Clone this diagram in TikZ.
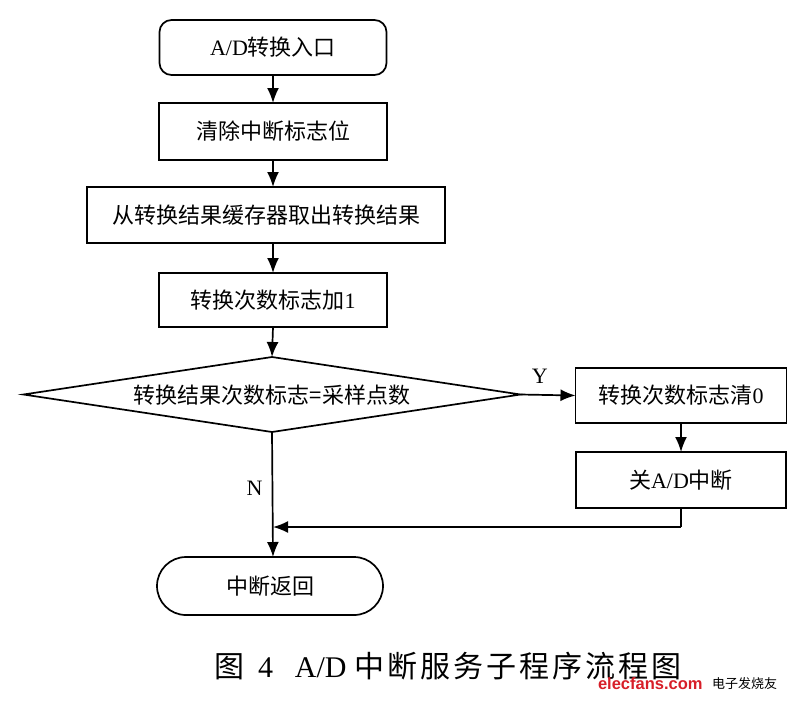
\documentclass[tikz,border=0pt]{standalone}
\usepackage{fontspec}
\setmainfont{Liberation Serif}
\newfontfamily\cjk{Noto Sans CJK SC}
\newfontfamily\wmfont{Liberation Sans}
\usetikzlibrary{arrows.meta,shapes.geometric,shapes.misc}
\definecolor{wmred}{RGB}{215,30,40}
\begin{document}
\begin{tikzpicture}[x=1pt,y=-1pt,
  every node/.style={inner sep=0pt,outer sep=0pt},
  txt/.style={font=\fontsize{22}{26}\selectfont},
  box/.style={draw,line width=1.7pt,txt},
  flow/.style={line width=1.7pt,-{Latex[length=15pt,width=12pt]}},
  plain/.style={line width=1.7pt}]
\useasboundingbox (0,0) rectangle (802,702);
\node[box,rounded corners=12pt,minimum width=227pt,minimum height=55pt] (start) at (273,47.5) {A/D{\cjk 转换入口}};
\node[box,minimum width=228pt,minimum height=57pt] (clr) at (273,131.5) {\cjk 清除中断标志位};
\node[box,minimum width=358pt,minimum height=56pt] (fetch) at (266,215) {\cjk 从转换结果缓存器取出转换结果};
\node[box,minimum width=228pt,minimum height=54pt] (inc) at (273,300) {{\cjk 转换次数标志加}1};
\node[box,diamond,aspect=6.6,minimum width=497pt,minimum height=75pt,inner sep=0pt] (cmp) at (272,394.5) {};
\node[txt] (cmpt) at (272,395) {\cjk 转换结果次数标志=采样点数};
\node[box,minimum width=211pt,minimum height=55pt] (zero) at (681,395.5) {{\cjk 转换次数标志清}0};
\node[box,minimum width=210pt,minimum height=56pt] (off) at (681,480) {{\cjk 关}A/D{\cjk 中断}};
\node[box,rounded rectangle,minimum width=226pt,minimum height=58pt] (ret) at (270,586) {\cjk 中断返回};
\coordinate (turn) at (681,527);
\coordinate (join) at (273,527);
\draw[flow] (start.south -| 273,0) -- (clr.north -| 273,0);
\draw[flow] (clr.south -| 273,0) -- (fetch.north -| 273,0);
\draw[flow] (fetch.south -| 273,0) -- (inc.north -| 273,0);
\draw[flow] (inc.south -| 273,0) -- (cmp.north);
\draw[flow] (cmp.east) -- node[pos=0.35,above=11pt,txt] (ylab) {Y} (zero.west);
\draw[flow] (zero.south) -- (off.north);
\draw[flow] (cmp.south) -- node[pos=0.45,left=10pt,txt] (nlab) {N} (ret.north -| 273,0);
\draw[plain] (off.south) -- (turn);
\draw[flow] (turn) -- (join);
\node[anchor=west,font=\fontsize{30}{34}\selectfont] (cap) at (214,666) {{\cjk 图}\hspace{14pt}4\hspace{22pt}A/D\hspace{8pt}{\cjk 中\hspace{3pt}断\hspace{3pt}服\hspace{3pt}务\hspace{3pt}子\hspace{3pt}程\hspace{3pt}序\hspace{3pt}流\hspace{3pt}程\hspace{3pt}图}};
\node[anchor=west,font=\wmfont\bfseries\fontsize{16.5}{19}\selectfont,text=wmred] (wm) at (598,684) {elecfans.com};
\node[anchor=west,font=\cjk\fontsize{13}{15}\selectfont] (wmcn) at (712,684) {电子发烧友};
\end{tikzpicture}
\end{document}
